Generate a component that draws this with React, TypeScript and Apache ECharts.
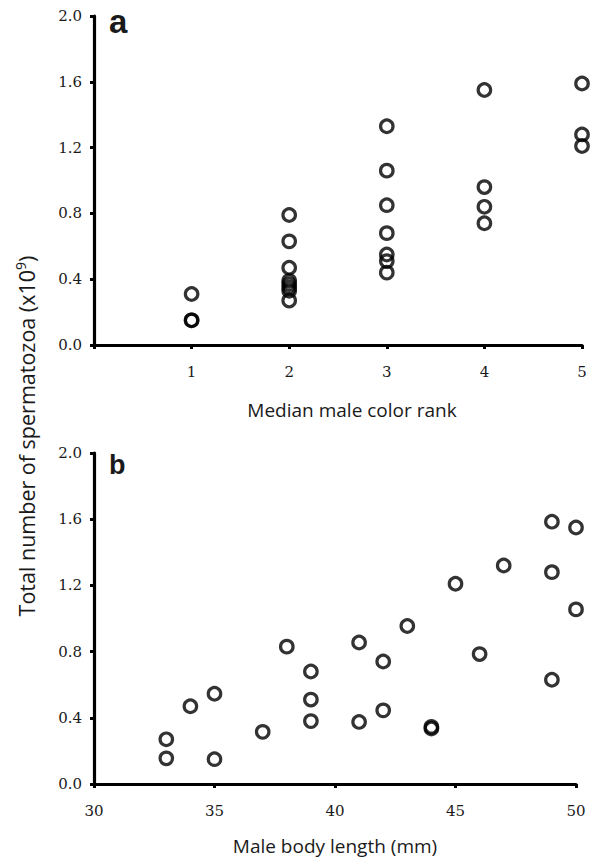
import React, { useEffect, useRef } from "react";
import * as echarts from "echarts";

// Panel a: median male color rank vs total spermatozoa (x10^9)
const colorRank = [1, 1, 1, 2, 2, 2, 2, 2, 2, 2, 2, 3, 3, 3, 3, 3, 3, 3, 4, 4, 4, 4, 5, 5, 5];
const spermA = [0.31, 0.15, 0.15, 0.79, 0.63, 0.47, 0.39, 0.37, 0.35, 0.33, 0.27, 1.33, 1.06, 0.85, 0.68, 0.55, 0.51, 0.44, 1.55, 0.96, 0.84, 0.74, 1.59, 1.28, 1.21];

// Panel b: male body length (mm) vs total spermatozoa (x10^9)
const bodyLength = [33, 33, 34, 35, 35, 37, 38, 39, 39, 39, 41, 41, 42, 42, 43, 44, 44, 45, 46, 47, 49, 49, 49, 50, 50];
const spermB = [0.27, 0.155, 0.47, 0.545, 0.15, 0.315, 0.83, 0.68, 0.51, 0.38, 0.855, 0.375, 0.74, 0.445, 0.955, 0.345, 0.335, 1.21, 0.785, 1.32, 1.585, 1.28, 0.63, 1.55, 1.055];

const yTicks = { min: 0, max: 2, interval: 0.4 };
const rankTicks = { min: 0, max: 5, interval: 1 };
const lengthTicks = { min: 30, max: 50, interval: 5 };

const INK = "#000000";
const TEXT = "#1a1a1a";
const SERIF = "DejaVu Serif";
const SANS = "Open Sans";

export default function App() {
  const ref = useRef<HTMLDivElement>(null);
  useEffect(() => {
    if (!ref.current) return;
    const chart = echarts.init(ref.current, null, { renderer: "svg" });
    const axisLine = { show: true, lineStyle: { color: INK, width: 3.2 } };
    const axisTick = { show: true, inside: false, length: 4, lineStyle: { color: INK, width: 3 } };
    const yAxisCommon = {
      type: "value",
      ...yTicks,
      axisLine,
      axisTick,
      splitLine: { show: false },
      axisLabel: {
        margin: 12,
        color: TEXT,
        fontFamily: SERIF,
        fontSize: 15,
        formatter: (v: number) => v.toFixed(1),
      },
    };
    const xLabel = { margin: 19, color: TEXT, fontFamily: SERIF, fontSize: 15 };
    const itemStyle = { color: "rgba(0,0,0,0)", borderColor: INK, borderWidth: 3.2 };
    chart.setOption({
      animation: false,
      backgroundColor: "#ffffff",
      grid: [
        { left: 94, right: 14, top: 16, height: 329 },
        { left: 94, right: 20, top: 453, height: 331 },
      ],
      xAxis: [
        {
          type: "value",
          gridIndex: 0,
          ...rankTicks,
          axisLine,
          axisTick,
          splitLine: { show: false },
          axisLabel: { ...xLabel, formatter: (v: number) => (v === 0 ? "" : String(v)) },
        },
        {
          type: "value",
          gridIndex: 1,
          ...lengthTicks,
          axisLine,
          axisTick,
          splitLine: { show: false },
          axisLabel: { ...xLabel, formatter: (v: number) => String(v) },
        },
      ],
      yAxis: [
        { ...yAxisCommon, gridIndex: 0 },
        { ...yAxisCommon, gridIndex: 1 },
      ],
      series: [
        {
          type: "scatter",
          xAxisIndex: 0,
          yAxisIndex: 0,
          symbol: "circle",
          symbolSize: 12.5,
          itemStyle,
          data: colorRank.map((x, i) => [x, spermA[i]]),
        },
        {
          type: "scatter",
          xAxisIndex: 1,
          yAxisIndex: 1,
          symbol: "circle",
          symbolSize: 12.5,
          itemStyle,
          data: bodyLength.map((x, i) => [x, spermB[i]]),
        },
      ],
      graphic: [
        {
          type: "text",
          left: 109,
          top: 5,
          style: { text: "a", fontFamily: "Liberation Sans", fontWeight: "bold", fontSize: 33, fill: TEXT },
        },
        {
          type: "text",
          left: 109,
          top: 451,
          style: { text: "b", fontFamily: "Liberation Sans", fontWeight: "bold", fontSize: 27, fill: TEXT },
        },
        {
          type: "text",
          x: 352,
          y: 410,
          style: {
            text: "Median male color rank",
            fontFamily: SANS,
            fontSize: 19,
            fill: TEXT,
            align: "center",
            verticalAlign: "middle",
          },
        },
        {
          type: "text",
          x: 335,
          y: 846,
          style: {
            text: "Male body length (mm)",
            fontFamily: SANS,
            fontSize: 19,
            fill: TEXT,
            align: "center",
            verticalAlign: "middle",
          },
        },
        {
          type: "text",
          x: 26,
          y: 436,
          rotation: Math.PI / 2,
          style: {
            text: "{a|Total number of spermatozoa (x10}{s|9}{a|)}",
            fill: TEXT,
            align: "center",
            verticalAlign: "middle",
            rich: {
              a: { fontFamily: SANS, fontSize: 21.5, fill: TEXT, lineHeight: 26 },
              s: { fontFamily: SANS, fontSize: 14, fill: TEXT, verticalAlign: "top", lineHeight: 26, padding: [0, 0, 10, 0] },
            },
          },
        },
      ],
    });
    return () => chart.dispose();
  }, []);
  return (
    <div
      ref={ref}
      style={{ position: "absolute", left: 0, top: 0, width: 596, height: 858 }}
    />
  );
}
